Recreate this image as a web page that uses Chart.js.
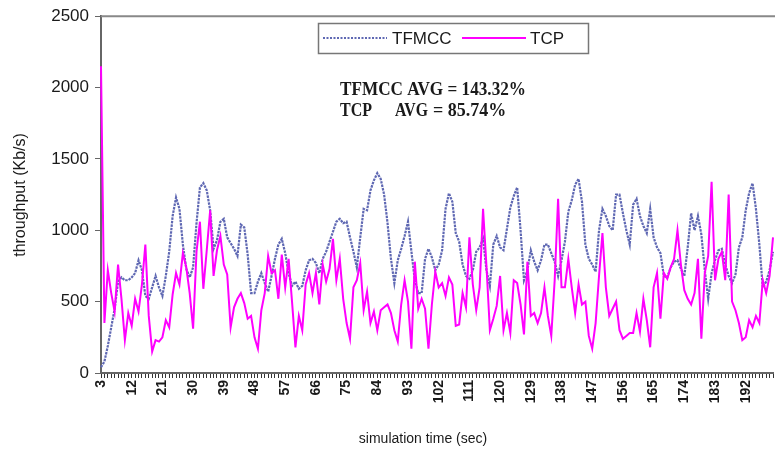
<!DOCTYPE html>
<html>
<head>
<meta charset="utf-8">
<script src="https://cdn.jsdelivr.net/npm/chart.js@4.4.0/dist/chart.umd.min.js"></script>
<style>
  html, body { margin: 0; padding: 0; background: #fff; }
  #wrap { width: 775px; height: 451px; }
</style>
</head>
<body>
<div id="wrap"><canvas id="chart" width="775" height="451"></canvas></div>
<script>
// simulation seconds on the x axis (one sample per second)
const seconds = [];
for (let s = 3; s <= 200; s++) seconds.push(s);

const xTickLabels = [3, 12, 21, 30, 39, 48, 57, 66, 75, 84, 93, 102, 111, 120, 129, 138, 147, 156, 165, 174, 183, 192];
const yTickValues = [0, 500, 1000, 1500, 2000, 2500];

// throughput in Kb/s
const tfmcc = [
  40, 80, 190, 320, 450, 640, 670, 650, 650, 670,
  700, 790, 720, 540, 520, 600, 680, 600, 540, 680,
  850, 1100, 1230, 1150, 900, 730, 670, 740, 1050, 1300,
  1330, 1280, 1140, 870, 930, 1060, 1080, 950, 910, 870,
  820, 1040, 1020, 830, 560, 560, 640, 700, 630, 570,
  680, 800, 900, 940, 840, 700, 610, 640, 590, 610,
  720, 790, 800, 770, 700, 800, 850, 920, 990, 1060,
  1080, 1050, 1060, 950, 850, 740, 950, 1150, 1140, 1280,
  1350, 1400, 1360, 1250, 1050, 800, 630, 790, 870, 960,
  1060, 850, 650, 560, 560, 800, 870, 810, 720, 760,
  860, 1150, 1260, 1200, 980, 920, 760, 680, 660, 720,
  850, 880, 940, 720, 610, 900, 960, 880, 860, 1010,
  1160, 1240, 1300, 1000, 650, 720, 860, 780, 720, 790,
  900, 900, 840, 780, 680, 790, 920, 1130, 1210, 1320,
  1360, 1200, 900, 800, 760, 710, 1000, 1150, 1100, 1030,
  1000, 1250, 1250, 1120, 1000, 900, 1180, 1220, 1100, 1030,
  980, 1150, 950, 880, 840, 680, 670, 740, 780, 790,
  730, 680, 880, 1120, 1000, 1100, 970, 720, 520, 700,
  790, 860, 870, 760, 680, 630, 690, 880, 950, 1140,
  1260, 1330, 1150, 900, 600, 640, 720, 850
];

const tcp = [
  2150, 350, 720, 560, 430, 760, 520, 230, 420, 330,
  520, 430, 620, 900, 400, 150, 230, 220, 250, 370,
  320, 550, 700, 620, 840, 740, 560, 310, 850, 1060,
  590, 860, 1140, 680, 860, 960, 760, 690, 320, 460,
  520, 560, 490, 380, 400, 250, 170, 440, 560, 820,
  700, 720, 520, 830, 600, 800, 500, 180, 400, 300,
  620, 700, 560, 700, 480, 760, 640, 730, 940, 650,
  800, 520, 350, 240, 600, 650, 770, 440, 570, 350,
  430, 300, 440, 460, 480, 420, 300, 220, 480, 650,
  500, 170, 780, 450, 520, 450, 170, 480, 710, 600,
  630, 540, 670, 620, 330, 340, 560, 460, 950, 620,
  440, 600, 1150, 750, 300, 380, 470, 680, 300, 420,
  280, 650, 630, 480, 270, 780, 400, 420, 350, 420,
  600, 400, 260, 650, 1220, 600, 600, 800, 600, 420,
  620, 480, 500, 260, 170, 350, 680, 980, 600, 400,
  450, 500, 300, 240, 260, 280, 280, 420, 290, 520,
  370, 180, 600, 700, 380, 700, 660, 740, 800, 1000,
  760, 580, 520, 480, 560, 800, 240, 700, 820, 1340,
  650, 800, 850, 650, 1250, 500, 440, 350, 230, 250,
  370, 320, 400, 350, 650, 560, 680, 950
];

const TFMCC_COLOR = '#5f68b3';
const TCP_COLOR = '#ff00ff';
const AXIS_COLOR = '#666';
const TEXT_COLOR = '#1a1a1a';

// legend, top frame line, averages and axis titles
const overlay = {
  id: 'overlay',
  afterDraw(chart) {
    const ctx = chart.ctx;
    const area = chart.chartArea;
    ctx.save();

    // top frame line
    ctx.strokeStyle = '#888';
    ctx.lineWidth = 2;
    ctx.beginPath();
    ctx.moveTo(area.left, area.top);
    ctx.lineTo(chart.width, area.top);
    ctx.stroke();

    // legend box
    ctx.fillStyle = '#fff';
    ctx.fillRect(318, 23, 270, 30);
    ctx.strokeStyle = '#777';
    ctx.lineWidth = 1.5;
    ctx.strokeRect(318.5, 23.5, 270, 30);

    ctx.lineWidth = 2;
    ctx.strokeStyle = TFMCC_COLOR;
    ctx.setLineDash([2, 1.5]);
    ctx.beginPath(); ctx.moveTo(323, 38); ctx.lineTo(387, 38); ctx.stroke();
    ctx.setLineDash([]);
    ctx.strokeStyle = TCP_COLOR;
    ctx.beginPath(); ctx.moveTo(462, 38); ctx.lineTo(526, 38); ctx.stroke();

    ctx.fillStyle = TEXT_COLOR;
    ctx.font = '17px "Liberation Sans", Arial, sans-serif';
    ctx.textBaseline = 'middle';
    ctx.textAlign = 'left';
    ctx.fillText('TFMCC', 392, 39);
    ctx.fillText('TCP', 530, 39);

    // averages
    ctx.textBaseline = 'alphabetic';
    ctx.font = 'bold 18px "Liberation Serif", "Times New Roman", serif';
    ctx.fillText('TFMCC AVG = 143.32%', 340, 95, 186);
    ctx.fillText('TCP', 340, 116, 32);
    ctx.fillText('AVG', 395, 116, 33);
    ctx.fillText('= 85.74%', 433, 116, 78);

    // axis titles
    ctx.font = '14px "Liberation Sans", Arial, sans-serif';
    ctx.textAlign = 'center';
    ctx.textBaseline = 'middle';
    ctx.fillText('simulation time (sec)', 423, 439);
    ctx.translate(21, 195);
    ctx.rotate(-Math.PI / 2);
    ctx.font = '16px "Liberation Sans", Arial, sans-serif';
    ctx.fillText('throughput (Kb/s)', 0, 0);

    ctx.restore();
  }
};

new Chart(document.getElementById('chart'), {
  type: 'line',
  data: {
    labels: seconds,
    datasets: [
      {
        label: 'TFMCC',
        data: tfmcc,
        borderColor: TFMCC_COLOR,
        borderWidth: 2.2,
        borderDash: [2.5, 1],
        pointRadius: 0,
        tension: 0,
        order: 1
      },
      {
        label: 'TCP',
        data: tcp,
        borderColor: TCP_COLOR,
        borderWidth: 2,
        pointRadius: 0,
        tension: 0,
        order: 0
      }
    ]
  },
  options: {
    responsive: false,
    animation: false,
    events: [],
    layout: { padding: { top: 16, right: 2, left: 0, bottom: 0 } },
    plugins: {
      legend: { display: false },
      tooltip: { enabled: false }
    },
    scales: {
      x: {
        type: 'category',
        offset: false,
        border: { display: true, color: AXIS_COLOR, width: 2 },
        grid: { drawOnChartArea: false, drawTicks: true, tickLength: 5, color: '#333', lineWidth: 1 },
        ticks: {
          autoSkip: false,
          minRotation: 90,
          maxRotation: 90,
          padding: 2,
          color: TEXT_COLOR,
          font: { family: '"Liberation Sans Narrow", "Liberation Sans", Arial, sans-serif', size: 14, weight: 'bold' },
          callback: (value, index) => xTickLabels.includes(seconds[index]) ? String(seconds[index]) : ''
        },
        afterFit: (scale) => {
          scale.height = 78;
          scale.paddingLeft = 0;
          scale.paddingRight = 0;
        }
      },
      y: {
        min: 0,
        max: 2500,
        border: { display: true, color: AXIS_COLOR, width: 2 },
        grid: { drawOnChartArea: false, drawTicks: true, tickLength: 6, color: AXIS_COLOR },
        afterBuildTicks: (scale) => {
          scale.ticks = yTickValues.map(v => ({ value: v }));
        },
        ticks: {
          padding: 6,
          color: TEXT_COLOR,
          font: { family: '"Liberation Sans", Arial, sans-serif', size: 17 },
          callback: (value) => String(value)
        },
        afterFit: (scale) => {
          scale.width = 101;
        }
      }
    }
  },
  plugins: [overlay]
});
</script>
</body>
</html>
